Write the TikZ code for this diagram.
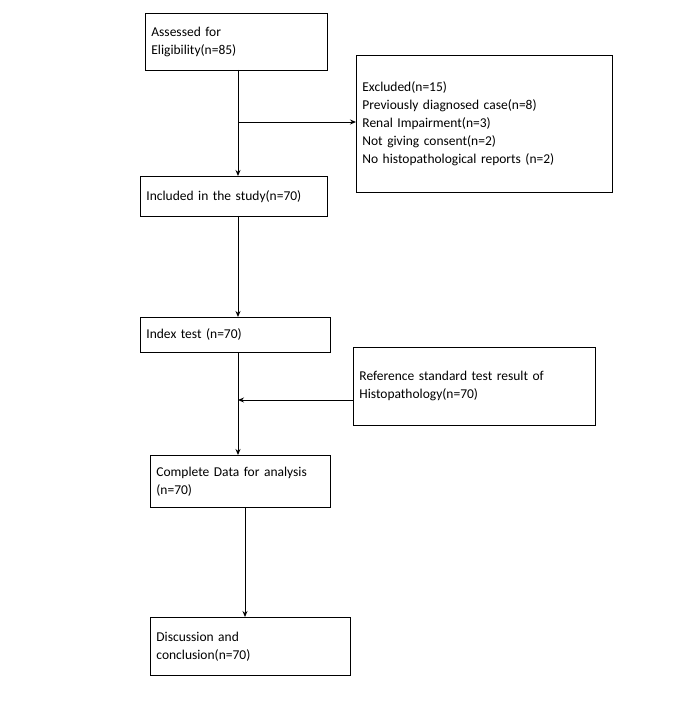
\documentclass[tikz,border=0pt]{standalone}
\usepackage{fontspec}
\setmainfont{Carlito}
\usetikzlibrary{arrows.meta}
\begin{document}
\begin{tikzpicture}[x=1pt,y=-1pt,
  box/.style={draw,line width=0.8pt,anchor=north west,align=left,inner sep=6pt,font=\fontsize{13.5}{18}\selectfont},
  arr/.style={line width=0.9pt,-{Stealth[length=6pt,width=5pt]}}]
\useasboundingbox (0,0) rectangle (672,703);
\node[box,minimum width=182pt,minimum height=57pt,text width=170pt] (a) at (145,13) {Assessed for\\Eligibility(n=85)\\[-4pt]};
\node[box,minimum width=256pt,minimum height=137pt,text width=244pt] (e) at (356,55) {Excluded(n=15)\\Previously diagnosed case(n=8)\\Renal Impairment(n=3)\\Not giving consent(n=2)\\No histopathological reports (n=2)\\[26pt]};
\node[box,minimum width=187pt,minimum height=40pt,text width=175pt] (i) at (140,176) {Included in the study(n=70)};
\node[box,minimum width=190pt,minimum height=35pt,text width=178pt] (x) at (140,317) {Index test (n=70)};
\node[box,minimum width=242pt,minimum height=78pt,text width=230pt] (r) at (353,347) {Reference standard test result of\\Histopathology(n=70)\\[18pt]};
\node[box,minimum width=180pt,minimum height=52pt,text width=168pt] (c) at (150,455) {Complete Data for analysis\\(n=70)};
\node[box,minimum width=200pt,minimum height=58pt,text width=188pt] (d) at (150,617) {Discussion and\\conclusion(n=70)};
\coordinate (j1) at (238,122);
\coordinate (j2) at (238,400);
\draw[arr] (238,70) -- (238,176);
\draw[arr] (j1) -- (e.west|-j1);
\draw[arr] (238,216) -- (238,317);
\draw[arr] (238,352) -- (238,455);
\draw[arr] (r.west|-j2) -- (j2);
\draw[arr] (245,507) -- (245,617);
\end{tikzpicture}
\end{document}
